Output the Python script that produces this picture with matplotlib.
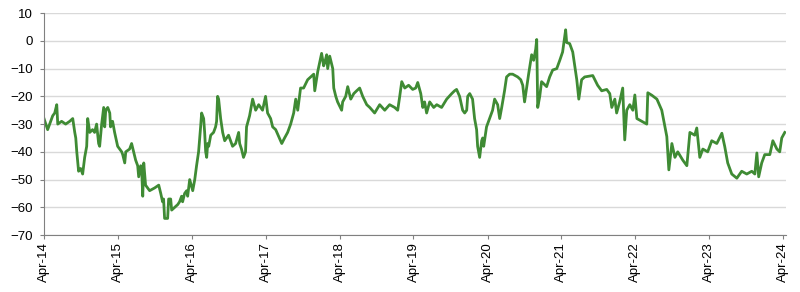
import matplotlib
matplotlib.use("Agg")
import matplotlib.pyplot as plt
import matplotlib.dates as mdates
import pandas as pd

plt.rcParams['font.family'] = ['Liberation Sans', 'DejaVu Sans']

# values
dates = [
    "2014-04-01", "2014-04-19", "2014-05-04", "2014-05-14", "2014-05-24", "2014-06-03", "2014-06-08",
    "2014-06-27", "2014-07-17", "2014-08-06", "2014-08-21", "2014-08-31", "2014-09-05", "2014-09-10",
    "2014-09-19", "2014-09-29", "2014-10-09", "2014-10-19", "2014-10-29", "2014-11-03", "2014-11-13",
    "2014-11-27", "2014-12-07", "2014-12-17", "2014-12-27", "2015-01-01", "2015-01-11", "2015-01-21",
    "2015-01-26", "2015-01-31", "2015-02-10", "2015-02-20", "2015-02-24", "2015-03-06", "2015-03-16",
    "2015-03-31", "2015-04-20", "2015-04-25", "2015-05-05", "2015-05-10", "2015-05-29", "2015-06-08",
    "2015-06-18", "2015-06-28", "2015-07-08", "2015-07-13", "2015-07-23", "2015-07-28", "2015-08-02",
    "2015-08-07", "2015-08-16", "2015-09-05", "2015-09-30", "2015-10-20", "2015-10-30", "2015-11-08",
    "2015-11-13", "2015-11-18", "2015-12-03", "2015-12-08", "2015-12-18", "2015-12-23", "2016-01-07",
    "2016-01-22", "2016-01-31", "2016-02-10", "2016-02-15", "2016-02-25", "2016-03-06", "2016-03-11",
    "2016-03-21", "2016-04-05", "2016-04-15", "2016-04-24", "2016-05-04", "2016-05-14", "2016-05-19",
    "2016-05-29", "2016-06-03", "2016-06-08", "2016-06-13", "2016-06-18", "2016-06-23", "2016-07-03",
    "2016-07-17", "2016-07-27", "2016-08-01", "2016-08-06", "2016-08-11", "2016-08-21", "2016-08-31",
    "2016-09-10", "2016-09-29", "2016-10-19", "2016-11-03", "2016-11-18", "2016-11-23", "2016-12-02",
    "2016-12-12", "2016-12-22", "2016-12-27", "2017-01-11", "2017-01-26", "2017-02-10", "2017-02-25",
    "2017-03-16", "2017-03-31", "2017-04-10", "2017-04-25", "2017-05-05", "2017-05-20", "2017-06-04",
    "2017-06-19", "2017-07-03", "2017-07-18", "2017-08-02", "2017-08-17", "2017-08-27", "2017-09-06",
    "2017-09-20", "2017-10-05", "2017-10-25", "2017-11-09", "2017-11-24", "2017-11-29", "2017-12-14",
    "2018-01-02", "2018-01-12", "2018-01-17", "2018-01-27", "2018-02-01", "2018-02-11", "2018-02-26",
    "2018-03-03", "2018-03-13", "2018-03-22", "2018-04-11", "2018-04-16", "2018-05-01", "2018-05-11",
    "2018-05-26", "2018-06-10", "2018-06-24", "2018-07-09", "2018-07-24", "2018-08-13", "2018-08-28",
    "2018-09-21", "2018-10-16", "2018-11-10", "2018-12-04", "2018-12-29", "2019-01-13", "2019-01-23",
    "2019-02-02", "2019-02-17", "2019-03-08", "2019-03-28", "2019-04-12", "2019-04-22", "2019-05-07",
    "2019-05-17", "2019-05-26", "2019-06-05", "2019-06-20", "2019-07-10", "2019-07-25", "2019-08-18",
    "2019-09-12", "2019-10-07", "2019-10-21", "2019-10-31", "2019-11-15", "2019-11-30", "2019-12-10",
    "2019-12-20", "2019-12-25", "2020-01-04", "2020-01-18", "2020-01-28", "2020-02-07", "2020-02-12",
    "2020-02-22", "2020-03-03", "2020-03-08", "2020-03-13", "2020-03-27", "2020-04-11", "2020-04-26",
    "2020-05-06", "2020-05-21", "2020-05-31", "2020-06-10", "2020-06-24", "2020-07-04", "2020-07-19",
    "2020-08-03", "2020-08-28", "2020-09-12", "2020-09-22", "2020-10-01", "2020-10-11", "2020-10-21",
    "2020-11-05", "2020-11-15", "2020-11-25", "2020-11-30", "2020-12-05", "2020-12-15", "2020-12-24",
    "2021-01-18", "2021-02-02", "2021-02-17", "2021-03-09", "2021-03-24", "2021-04-07", "2021-04-22",
    "2021-04-27", "2021-05-12", "2021-05-27", "2021-06-06", "2021-06-16", "2021-06-26", "2021-07-10",
    "2021-07-25", "2021-09-03", "2021-09-27", "2021-10-17", "2021-11-11", "2021-11-26", "2021-12-06",
    "2021-12-21", "2021-12-30", "2022-01-14", "2022-01-29", "2022-02-08", "2022-02-18", "2022-03-05",
    "2022-03-20", "2022-03-30", "2022-04-09", "2022-05-03", "2022-05-28", "2022-06-02", "2022-06-22",
    "2022-07-17", "2022-08-10", "2022-09-04", "2022-09-14", "2022-09-29", "2022-10-14", "2022-10-28",
    "2022-11-22", "2022-12-12", "2022-12-27", "2023-01-20", "2023-01-30", "2023-02-14", "2023-03-01",
    "2023-03-25", "2023-04-14", "2023-05-09", "2023-06-03", "2023-06-17", "2023-07-02", "2023-07-22",
    "2023-08-16", "2023-09-09", "2023-10-04", "2023-10-29", "2023-11-13", "2023-11-23", "2023-12-02",
    "2023-12-17", "2024-01-01", "2024-01-26", "2024-02-10", "2024-03-01", "2024-03-15", "2024-03-25",
    "2024-04-09",
]
values = [
    -28, -32, -29, -27, -26, -23, -30,
    -29, -30, -29, -28, -33, -35, -40,
    -47, -46, -48, -42, -38, -28, -33,
    -32, -33, -30, -37, -38, -30, -24,
    -31, -25, -24, -26, -31, -29, -33,
    -38, -40, -41, -44, -40, -39, -37,
    -40, -43, -45, -49, -45, -47, -56,
    -44, -52, -54, -53, -52, -55, -58,
    -57, -64, -64, -57, -57, -61, -60,
    -59, -58, -56, -58, -55, -54, -56,
    -50, -54, -50, -45, -40, -31, -26,
    -28, -33, -40, -42, -37, -38, -34,
    -33, -31, -29, -20, -21, -28, -33,
    -36, -34, -38, -37, -33, -37, -39,
    -42, -40, -31, -27, -21, -25, -23,
    -25, -20, -26, -28, -31, -32, -34.5,
    -37, -35, -33, -30, -26, -21, -25,
    -17, -17, -14, -13, -12, -18, -11,
    -4.5, -9, -8, -5, -10, -5.5, -10,
    -17, -20, -22, -25, -22, -20, -16.5,
    -21, -19, -18, -17, -20, -23, -24,
    -26, -23, -25, -23, -24, -25, -20,
    -14.7, -17, -16, -17.5, -17, -15, -19,
    -24, -22, -26, -22, -24, -23, -24,
    -21, -19, -18, -17.5, -20, -25, -26,
    -25, -20, -19, -21, -28, -32, -38,
    -42, -36, -35, -38, -31, -28, -25,
    -21, -23, -28, -24, -18, -13, -12,
    -12, -13, -14, -16, -22, -17, -12,
    -5, -7, -3, 0.5, -24, -20, -14.7,
    -16.5, -13, -10.5, -10, -7, -4, 4,
    -0.6, -1, -4, -9, -14, -21, -14,
    -13, -12.5, -16, -18, -17.5, -19, -24,
    -21, -26, -22, -17, -35.7, -25, -23,
    -25, -19.5, -28, -29, -30, -18.7, -19.6,
    -21, -25, -34.5, -46.5, -37, -42, -40,
    -43, -45, -33, -34, -31.4, -42, -39,
    -40, -36, -37, -33.3, -38, -44, -48,
    -49.5, -47, -48, -47, -48, -40.4, -49,
    -44, -41, -41, -36, -39, -40, -35,
    -33,
]
tick_dates = ["2014-04-01", "2015-04-01", "2016-04-01", "2017-04-01", "2018-04-01", "2019-04-01",
              "2020-04-01", "2021-04-01", "2022-04-01", "2023-04-01", "2024-04-01"]
yticks = [10, 0, -10, -20, -30, -40, -50, -60, -70]

df = pd.DataFrame({"date": pd.to_datetime(dates), "value": values})
ticks = pd.to_datetime(tick_dates)

fig = plt.figure(figsize=(8, 2.92), dpi=100)
ax = fig.add_axes([0.055, 0.195, 0.9275, 0.76])

ax.plot(df["date"], df["value"], color="#3f8b34", linewidth=2.0, solid_joinstyle="round")

ax.set_ylim(-70, 10)
ax.set_yticks(yticks)
ax.set_xlim(pd.Timestamp("2014-04-01"), pd.Timestamp("2024-04-15"))
ax.set_xticks(ticks)
ax.xaxis.set_major_formatter(mdates.DateFormatter("%b-%y"))
plt.setp(ax.get_xticklabels(), rotation=90)

ax.grid(axis="y", color="#d9d9d9", linewidth=1)
ax.set_axisbelow(True)
for s in ["top", "right"]:
    ax.spines[s].set_visible(False)
for s in ["left", "bottom"]:
    ax.spines[s].set_color("#808080")
ax.tick_params(axis="y", length=3, color="#808080", labelsize=9.5, pad=5)
ax.tick_params(axis="x", length=3, color="#808080", labelsize=9.5, pad=2)

fig.savefig("out.png", dpi=100)
